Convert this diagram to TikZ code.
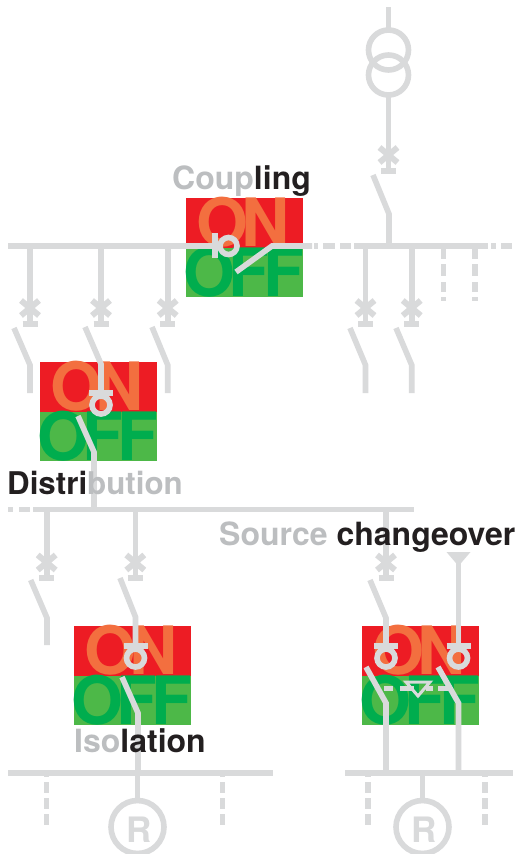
\documentclass[tikz,border=0pt]{standalone}
\usepackage{fontspec}
\setmainfont{TeX Gyre Heros}
\definecolor{wire}{HTML}{D9DADB}
\definecolor{lblgrey}{HTML}{BCBEC0}
\definecolor{lbldark}{HTML}{231F20}
\definecolor{panred}{HTML}{ED1C24}
\definecolor{pangreen}{HTML}{4DB848}
\definecolor{ontext}{HTML}{F36F3F}
\definecolor{offtext}{HTML}{00AD4E}
\newcommand{\lbl}[1]{\textcolor{lblgrey}{#1}}
\newcommand{\lbk}[1]{\textcolor{lbldark}{#1}}
% control panel: top-left corner
\newcommand{\OnOffPanel}[3]{%
  \fill[panred] (#1,#2) rectangle ++(117,50);
  \fill[pangreen] (#1,#2+50) rectangle ++(117,49);
  \node[bigtxt,text=ontext] (#3on) at (#1+10.5,#2+48.5) {O\kern-7ptN};
  \node[bigtxt,text=offtext] (#3off) at (#1-2.6,#2+98) {O\kern-7ptF\kern-6ptF};
}
% breaker cross and bar, cross centred at (x,y)
\newcommand{\BreakerMark}[2]{%
  \draw[wirebar] (#1-9,#2-7.5) -- (#1+9,#2+7.5) (#1-9,#2+7.5) -- (#1+9,#2-7.5);
  \draw[wire5] (#1,#2) -- (#1,#2+15);
  \draw[line width=6pt,wire] (#1-7.5,#2+15.5) -- (#1+7.5,#2+15.5);
}
% open blade: top end, knee x, knee y, lower end y
\newcommand{\Blade}[5]{\draw[wire5] (#1,#2) -- (#3,#4) -- (#3,#5);}
% fixed contact with ring: x, bar y
\newcommand{\ContactV}[2]{%
  \draw[line width=6pt,wire] (#1-12,#2) -- (#1+12,#2);
  \draw[wire5] (#1,#2+12) circle (9);
}
\tikzset{
  x=1pt,y=-1pt,
  wire5/.style={line width=5.6pt,wire},
  wirebar/.style={line width=6pt,wire},
  bigtxt/.style={anchor=base west,inner sep=0pt,font=\bfseries\fontsize{66.7}{70}\selectfont},
  labeltxt/.style={anchor=base west,inner sep=0pt,font=\bfseries\fontsize{32}{35}\selectfont},
  rtxt/.style={anchor=base,inner sep=0pt,text=wire,font=\bfseries\fontsize{35}{38}\selectfont},
}
\begin{document}
\begin{tikzpicture}
\useasboundingbox (0,0) rectangle (516,854);
\fill[white] (0,0) rectangle (516,854);

% panels
\OnOffPanel{186}{198}{c}
\OnOffPanel{40}{362}{d}
\OnOffPanel{74}{626}{i}
\OnOffPanel{362}{626}{s}

% transformer and incoming feeder
\draw[wire5] (388.5,7) -- (388.5,30);
\draw[wire5] (388.5,50) circle (20);
\draw[wire5] (388.5,75) circle (20);
\draw[wire5] (388.5,95) -- (388.5,155);
\BreakerMark{388.5}{155}
\Blade{373}{175}{389}{214}{246}

% top busbar
\draw[wire5] (8,246) -- (215,246);
\draw[line width=6pt,wire] (215,233) -- (215,258);
\draw[wire5] (228.5,246) circle (8.5);
\draw[wire5] (236,272) -- (272,246) -- (312,246);
\draw[wire5] (314,246) -- (318,246) (323,246) -- (335,246) (340,246) -- (351,246);
\draw[wire5] (354,246) -- (488,246) (491,246) -- (496,246) (501,246) -- (512,246);

% left feeders of top busbar
\foreach \xx in {30,101,167.7}{
  \draw[wire5] (\xx,246) -- (\xx,308);
  \BreakerMark{\xx}{308}
}
\Blade{14}{328}{30}{365}{393}
\Blade{85}{327}{101}{364}{393}
\Blade{152}{327}{167.7}{365}{393}
\ContactV{101}{393}
\Blade{78}{416}{94}{452}{509}

% right feeders of top busbar
\foreach \xx in {365.5,411.7}{
  \draw[wire5] (\xx,246) -- (\xx,308);
  \BreakerMark{\xx}{308}
}
\Blade{350}{328}{365.5}{365}{393}
\Blade{396}{328}{411.7}{365}{393}
\foreach \xx in {443.7,475}{
  \draw[line width=5.5pt,wire] (\xx,246) -- (\xx,259) (\xx,264) -- (\xx,276) (\xx,282) -- (\xx,292) (\xx,297) -- (\xx,301);
}

% second busbar
\draw[wire5] (8,509.5) -- (13,509.5) (19,509.5) -- (30,509.5) (33,509.5) -- (414,509.5);
\foreach \xx in {46.7,135.3,386}{
  \draw[wire5] (\xx,509.5) -- (\xx,563);
  \BreakerMark{\xx}{562.5}
}
\Blade{30.7}{580}{47}{618}{645}
\Blade{120}{578}{135.5}{617}{646}
\ContactV{135.5}{646}
\Blade{122}{677}{138}{713}{773}
\Blade{370}{580}{386}{618}{646}
\ContactV{386}{646}
\Blade{366}{667}{386}{703}{773}

% second incomer
\fill[wire] (446.5,552) -- (470.5,552) -- (458.5,566) -- cycle;
\draw[wire5] (458.5,556) -- (458.5,646);
\ContactV{458.5}{646}
\Blade{438}{667}{458.5}{703}{773}

% interlock
\draw[wire5] (384,688.5) -- (393,688.5) (400,688.5) -- (414,688.5) (426,688.5) -- (433,688.5) (438,688.5) -- (449,688.5);
\draw[line width=3pt,wire,line join=miter] (406,682) -- (430,682) -- (418,696) -- cycle;

% lower busbars
\draw[wire5] (8,773) -- (273,773);
\draw[wire5] (345,773) -- (512.5,773);
\foreach \xx in {46.7,222.7,368,485}{
  \draw[line width=5.5pt,wire] (\xx,773) -- (\xx,777) (\xx,782) -- (\xx,793) (\xx,798) -- (\xx,808.5) (\xx,814) -- (\xx,825);
}

% motors
\draw[wire5] (137.5,773) -- (137.5,800);
\draw[wire5] (137.5,827) circle (26.5);
\node[rtxt] (rleft) at (139.5,842) {R};
\draw[wire5] (422.5,773) -- (422.5,800);
\draw[wire5] (422.5,827) circle (26.5);
\node[rtxt] (rright) at (424.5,842) {R};

% labels
\node[labeltxt] (coupling) at (172,189) {\lbl{Coup}\lbk{ling}};
\node[labeltxt,font=\bfseries\fontsize{31.3}{35}\selectfont] (distribution) at (7,494) {\lbk{Distri}\lbl{bution}};
\node[labeltxt] (source) at (219,545) {\lbl{Source} \lbk{changeover}};
\node[labeltxt] (isolation) at (74,752) {\lbl{Iso}\lbk{lation}};
\end{tikzpicture}
\end{document}
